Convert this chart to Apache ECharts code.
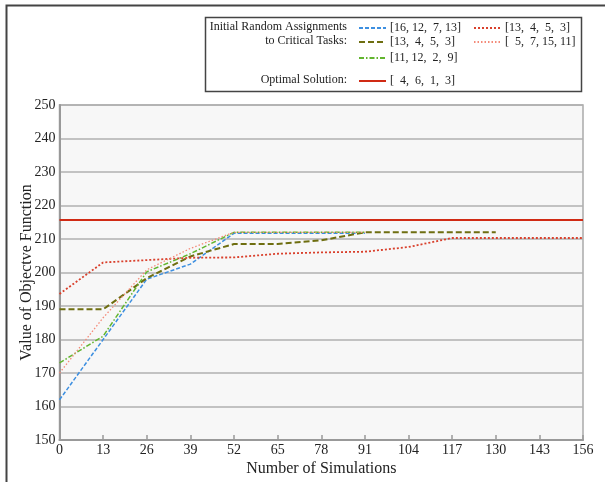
<!DOCTYPE html>
<html>
<head>
<meta charset="utf-8">
<script src="https://cdn.jsdelivr.net/npm/echarts@6/dist/echarts.min.js"></script>
<style>
  html, body { margin: 0; padding: 0; background: #fff; }
  #chart { width: 605px; height: 482px; }
</style>
</head>
<body>
<div id="chart"></div>
<script>
// x positions (number of simulations)
var simX = [0, 13, 26, 39, 52, 65, 78, 91, 104, 117, 130, 143, 156];
var xTicks = [0, 13, 26, 39, 52, 65, 78, 91, 104, 117, 130, 143, 156];

// objective values per run
var run16_12_7_13 = [162, 180, 198, 202.5, 211.7, 211.7, 211.7, 211.7];
var run13_4_5_3a = [189, 189, 198.3, 204.8, 208.5, 208.5, 209.6, 212, 212, 212, 212];
var run11_12_2_9 = [173, 181, 200.2, 205.6, 212, 212, 212, 212];
var run13_4_5_3b = [193.6, 203, 203.7, 204.4, 204.5, 205.6, 206, 206.2, 207.6, 210.3, 210.3, 210.3, 210.3];
var run5_7_15_11 = [170, 186.5, 200.8, 207.2, 212, 212, 212, 212];
var optimalValue = 215.7;

var names = ['r1', 'r2', 'r3', 'r4', 'r5', 'opt'];
var labels = [
    '[16, 12,\u20077, 13]',
    '[13,\u20074,\u20075,\u20073]',
    '[11, 12,\u20072,\u20079]',
    '[13,\u20074,\u20075,\u20073]',
    '[\u20075,\u20077, 15, 11]',
    '[\u20074,\u20076,\u20071,\u20073]'
];

var FONT = '"Liberation Serif", "DejaVu Serif", serif';

function pairs(ys) {
    return ys.map(function (y, i) { return [simX[i], y]; });
}

function lineSeries(name, ys, color, width, dash) {
    return {
        name: name,
        type: 'line',
        data: pairs(ys),
        symbol: 'none',
        z: 3,
        lineStyle: { color: color, width: width, type: dash },
        itemStyle: { color: color }
    };
}

function legendAt(name, left, top) {
    return {
        data: [name],
        left: left,
        top: top,
        padding: 0,
        itemWidth: 27,
        itemHeight: 8,
        itemGap: 4,
        selectedMode: false,
        itemStyle: { opacity: 0 },
        textStyle: { fontFamily: FONT, fontSize: 12, color: '#222', padding: [0, 0, 0, -1] },
        formatter: function (n) { return labels[names.indexOf(n)]; }
    };
}

function sideText(text, top) {
    return {
        type: 'text',
        right: 605 - 347,
        top: top,
        style: { text: text, fill: '#222', font: '12px ' + FONT }
    };
}

var chart = echarts.init(document.getElementById('chart'));

var option = {
    backgroundColor: '#fff',
    animation: false,
    grid: {
        left: 59.5,
        right: 22,
        top: 105,
        bottom: 42,
        show: true,
        backgroundColor: '#f7f7f7',
        borderColor: '#aaa',
        borderWidth: 1.5
    },
    xAxis: {
        type: 'value',
        min: 0,
        max: 156,
        interval: 13,
        name: 'Number of Simulations',
        nameLocation: 'middle',
        nameGap: 21,
        nameMoveOverlap: false,
        nameTextStyle: { fontFamily: FONT, fontSize: 16, color: '#222' },
        axisLine: { lineStyle: { color: '#999', width: 2 } },
        axisTick: { inside: true, length: 5, lineStyle: { color: '#999', width: 1.5 } },
        axisLabel: { fontFamily: FONT, fontSize: 14, color: '#222', margin: 3 },
        splitLine: { show: false }
    },
    yAxis: {
        type: 'value',
        min: 150,
        max: 250,
        interval: 10,
        name: 'Value of Objectve Function',
        nameLocation: 'middle',
        nameGap: 25,
        nameMoveOverlap: false,
        nameTextStyle: { fontFamily: FONT, fontSize: 16, color: '#222' },
        axisLine: { show: true, lineStyle: { color: '#999', width: 2 } },
        axisTick: { show: false },
        axisLabel: { fontFamily: FONT, fontSize: 14, color: '#222', margin: 4 },
        splitLine: { lineStyle: { color: '#b0b0b0', width: 1.5 } }
    },
    legend: [
        legendAt('r1', 358, 22),
        legendAt('r2', 358, 36),
        legendAt('r3', 358, 52),
        legendAt('r4', 473, 22),
        legendAt('r5', 473, 36),
        legendAt('opt', 358, 75)
    ],
    graphic: [
        {
            type: 'rect',
            shape: { x: 6.5, y: 5.5, width: 700, height: 600 },
            style: { fill: 'none', stroke: '#444', lineWidth: 2 },
            silent: true
        },
        {
            type: 'rect',
            shape: { x: 205.5, y: 17.5, width: 376, height: 74 },
            style: { fill: '#fff', stroke: '#444', lineWidth: 1.5 },
            z: -1,
            silent: true
        },
        sideText('Initial Random Assignments', 21),
        sideText('to Critical Tasks:', 35),
        sideText('Optimal Solution:', 74)
    ],
    series: [
        lineSeries('r1', run16_12_7_13, '#3d8fe0', 1.5, [4, 2]),
        lineSeries('r2', run13_4_5_3a, '#6e6e10', 2, [6, 3]),
        lineSeries('r3', run11_12_2_9, '#62b52e', 1.5, [5, 2, 1.5, 2]),
        lineSeries('r4', run13_4_5_3b, '#d9402c', 1.8, [2, 2]),
        lineSeries('r5', run5_7_15_11, '#f48a78', 1.3, [1.5, 2]),
        {
            name: 'opt',
            type: 'line',
            symbol: 'none',
            z: 2,
            data: [[xTicks[0], optimalValue], [xTicks[xTicks.length - 1], optimalValue]],
            lineStyle: { color: '#d02a14', width: 2, type: 'solid' },
            itemStyle: { color: '#d02a14' }
        }
    ]
};

chart.setOption(option);
</script>
</body>
</html>
